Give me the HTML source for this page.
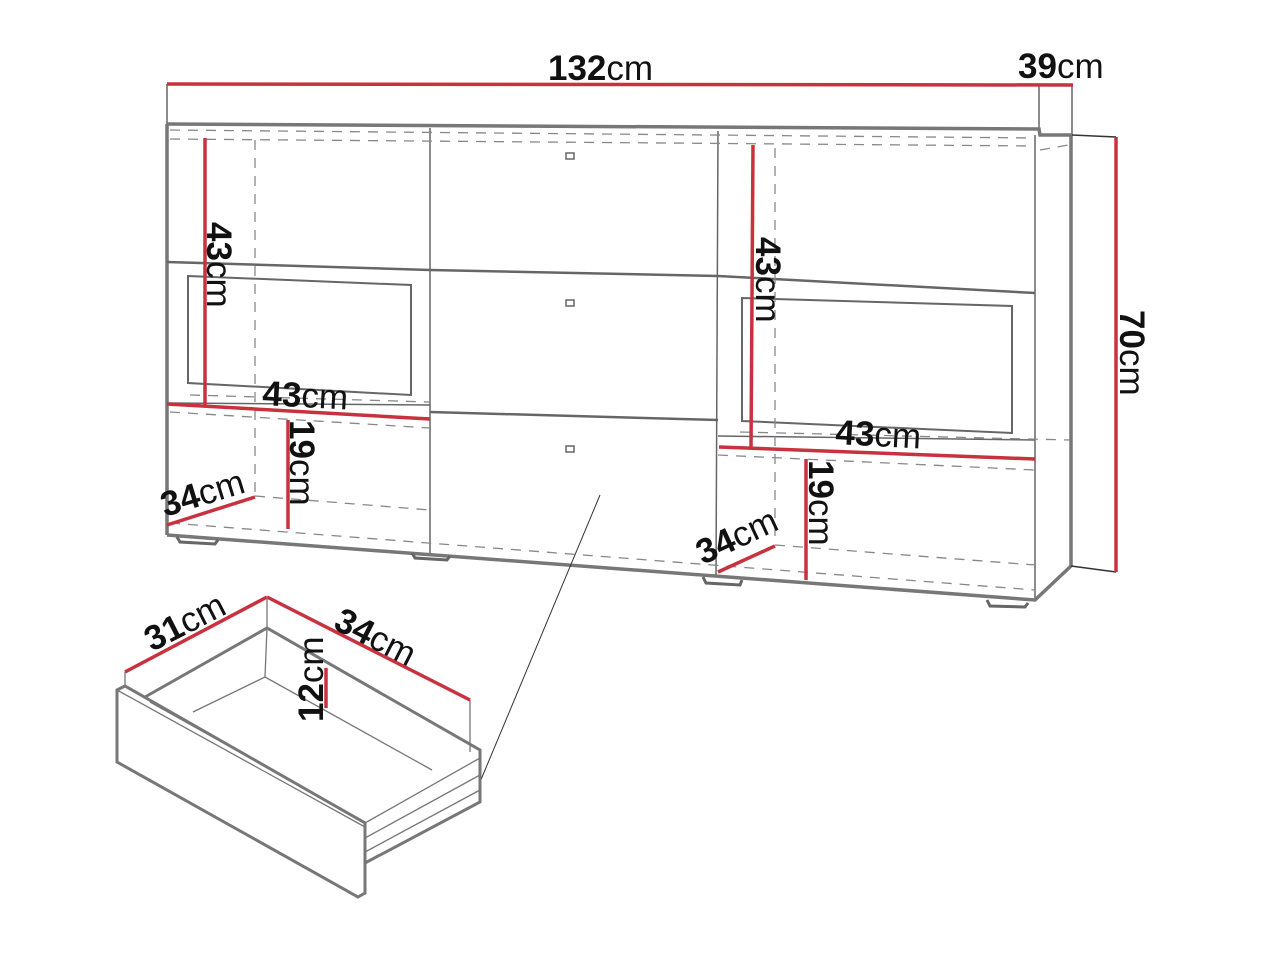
<!DOCTYPE html>
<html><head><meta charset="utf-8"><style>
html,body{margin:0;padding:0;background:#fff}
svg{display:block}
text{font-family:"Liberation Sans","DejaVu Sans",sans-serif;fill:#111}
.b{font-weight:bold}
</style></head><body>
<svg width="1277" height="957" viewBox="0 0 1277 957" xmlns="http://www.w3.org/2000/svg">
<g fill="none" stroke="#666" stroke-width="1.5">
 <line x1="167" y1="84" x2="167" y2="124"/>
 <line x1="1039" y1="85" x2="1039" y2="128"/>
 <line x1="1072" y1="84" x2="1072" y2="135"/>
 <polyline points="167,124 1039,129 1040,135 1072,135" stroke-width="3.5" stroke="#777"/>
 <line x1="167" y1="124" x2="167" y2="535" stroke-width="3.5" stroke="#777"/>
 <line x1="1035" y1="135" x2="1035" y2="600"/>
 <line x1="1071" y1="135" x2="1071" y2="566" stroke-width="3.5" stroke="#777"/>
 <polyline points="167,535 1035,600 1071,566" stroke-width="3.5" stroke="#777"/>
 <line x1="1071" y1="566" x2="1116" y2="572" stroke="#333"/>
 <line x1="1072" y1="135" x2="1116" y2="137" stroke="#333"/>
 <line x1="430" y1="128" x2="430" y2="553"/>
 <line x1="718" y1="131" x2="716" y2="575"/>
 <polyline points="167,262 430,270 718,276 1035,293" stroke-width="2.5"/>
 <polyline points="430,412 718,420" stroke-width="2.5"/>
 <line x1="167" y1="403" x2="430" y2="405"/>
 <line x1="718" y1="436" x2="1035" y2="440"/>
 <polygon points="188,276 411,285 411,395 188,383" stroke-width="2"/>
 <polygon points="742,298 1012,306 1012,433 742,421" stroke-width="2"/>
 <rect x="566" y="153" width="8" height="6"/>
 <rect x="566" y="300" width="8" height="6"/>
 <rect x="566" y="446" width="8" height="6"/>
 <polyline points="177,537 180,542 215,544 218,540" stroke-width="3"/>
 <polyline points="412,553 415,558 447,560 450,556" stroke-width="3"/>
 <polyline points="703,577 706,583 740,585 742,580" stroke-width="3"/>
 <polyline points="987,600 990,606 1025,607 1028,603" stroke-width="3"/>
 <line x1="600" y1="495" x2="480" y2="782" stroke="#333" stroke-width="1"/>
</g>
<g fill="none" stroke="#888" stroke-width="1.3" stroke-dasharray="10,8">
 <line x1="170" y1="130" x2="1035" y2="138"/>
 <line x1="170" y1="139" x2="1035" y2="146"/>
 <line x1="255" y1="140" x2="255" y2="500"/>
 <line x1="775" y1="148" x2="775" y2="540"/>
 <line x1="170" y1="412" x2="430" y2="428"/>
 <line x1="718" y1="455" x2="1035" y2="470"/>
 <line x1="255" y1="496" x2="430" y2="510"/>
 <line x1="775" y1="545" x2="1035" y2="565"/>
 <line x1="170" y1="523" x2="1035" y2="590"/>
 <line x1="740" y1="432" x2="1070" y2="440"/>
 <line x1="190" y1="395" x2="430" y2="402"/>
 <line x1="1040" y1="150" x2="1068" y2="145"/>
</g>
<g stroke="#c8323f" stroke-width="3.5" fill="none">
 <line x1="167" y1="84" x2="1073" y2="85"/>
 <line x1="1116" y1="137" x2="1116" y2="572"/>
 <line x1="205" y1="138" x2="205" y2="405"/>
 <line x1="167" y1="404" x2="430" y2="419"/>
 <line x1="288" y1="420" x2="288" y2="529"/>
 <line x1="167" y1="525" x2="255" y2="497"/>
 <line x1="753" y1="145" x2="751" y2="448"/>
 <line x1="719" y1="447" x2="1035" y2="459"/>
 <line x1="806" y1="459" x2="806" y2="580"/>
 <line x1="718" y1="572" x2="775" y2="546"/>
 <line x1="125" y1="672" x2="267" y2="597"/>
 <line x1="267" y1="597" x2="470" y2="700"/>
 <line x1="326" y1="668" x2="326" y2="708"/>
</g>
<g fill="none" stroke="#777" stroke-width="3">
 <polygon points="117,690 125,686 365,823 365,893 358,897 117,762" fill="#fff"/>
 <polyline points="145,697 267,628 480,750 480,802 365,863"/>
 <line x1="365" y1="823" x2="480" y2="758" stroke-width="1.3"/>
 <line x1="365" y1="838" x2="480" y2="775" stroke-width="1.3"/>
 <line x1="365" y1="852" x2="480" y2="790" stroke-width="1.3"/>
 <line x1="365" y1="827" x2="117" y2="690" stroke-width="1.3"/>
 <line x1="267" y1="597" x2="267" y2="628" stroke-width="1.3"/>
 <line x1="125" y1="672" x2="125" y2="686" stroke-width="1.3"/>
 <line x1="470" y1="700" x2="470" y2="752" stroke-width="1.3"/>
 <polyline points="193,712 265,677 432,770" stroke-width="1.3"/>
 <line x1="267" y1="628" x2="265" y2="677" stroke-width="1.3"/>
 <line x1="150" y1="702" x2="365" y2="822" stroke-width="1.3"/>
</g>
<g font-size="35">
 <text x="548" y="80"><tspan class="b">132</tspan>cm</text>
 <text x="1018" y="78"><tspan class="b">39</tspan>cm</text>
 <text transform="translate(1120,310) rotate(90)"><tspan class="b">70</tspan>cm</text>
 <text transform="translate(207,222) rotate(90)"><tspan class="b">43</tspan>cm</text>
 <text transform="translate(262,405) rotate(3)"><tspan class="b">43</tspan>cm</text>
 <text transform="translate(290,420) rotate(90)"><tspan class="b">19</tspan>cm</text>
 <text transform="translate(165,517) rotate(-17)"><tspan class="b">34</tspan>cm</text>
 <text transform="translate(756,237) rotate(90)"><tspan class="b">43</tspan>cm</text>
 <text transform="translate(835,444) rotate(3)"><tspan class="b">43</tspan>cm</text>
 <text transform="translate(809,460) rotate(90)"><tspan class="b">19</tspan>cm</text>
 <text transform="translate(703,565) rotate(-25)"><tspan class="b">34</tspan>cm</text>
 <text transform="translate(152,652) rotate(-27)"><tspan class="b">31</tspan>cm</text>
 <text transform="translate(332,628) rotate(27)"><tspan class="b">34</tspan>cm</text>
 <text transform="translate(323,722) rotate(-90)"><tspan class="b">12</tspan>cm</text>
</g>
</svg>
</body></html>
